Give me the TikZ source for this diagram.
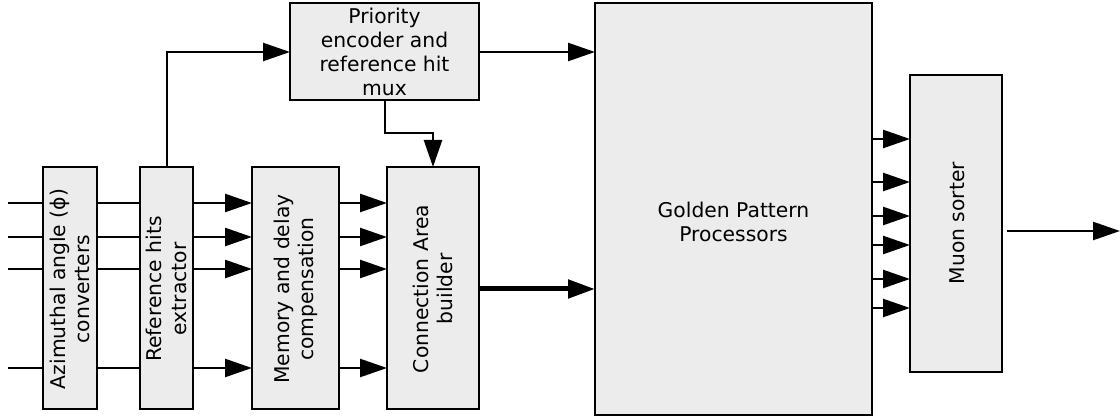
\documentclass[tikz,border=0pt]{standalone}
\usepackage{fontspec}
\setmainfont{DejaVu Sans}
\usetikzlibrary{arrows.meta}
\definecolor{boxfill}{RGB}{236,236,236}
\tikzset{
  block/.style={draw=black, line width=2.5pt, fill=boxfill, inner sep=0pt},
  lbl/.style={align=center, font=\fontsize{20.3}{24.2}\selectfont},
  sig/.style={line width=2.5pt},
  arr/.style={line width=2.5pt, -{Triangle[length=27pt,width=18pt]}},
  thick arr/.style={line width=5pt, -{Triangle[length=27pt,width=18pt]}}
}
\begin{document}
\begin{tikzpicture}[x=1pt,y=-1pt]
\useasboundingbox (0,0) rectangle (1120,419);

% processing blocks
\draw[block] (43,167) rectangle (97,409);
\draw[block] (140,167) rectangle (193,409);
\draw[block] (252,167) rectangle (339,409);
\draw[block] (387,167) rectangle (479,409);
\draw[block] (290,3) rectangle (479,100);
\draw[block] (595,3) rectangle (872,415);
\draw[block] (910,75) rectangle (1002,372);

\node[lbl, rotate=90] (az) at (70,289) {Azimuthal angle (ϕ)\\converters};
\node[lbl, rotate=90] (rh) at (166.5,289) {Reference hits\\extractor};
\node[lbl, rotate=90] (mem) at (295.5,289) {Memory and delay\\compensation};
\node[lbl, rotate=90] (ca) at (433,289) {Connection Area\\builder};
\node[lbl] (pe) at (384.5,52) {Priority\\encoder and\\reference hit\\mux};
\node[lbl] (gp) at (733.5,222) {Golden Pattern\\Processors};
\node[lbl, rotate=90] (ms) at (957,223) {Muon sorter};

% inputs and links between the first stages
\foreach \y in {203,237,269,368} {
  \draw[sig] (8,\y) -- (43,\y);
  \draw[sig] (97,\y) -- (140,\y);
  \draw[arr] (193,\y) -- (252,\y);
  \draw[arr] (339,\y) -- (387,\y);
}

% reference hit path
\draw[arr] (167,167) -- (167,52) -- (290,52);
\draw[arr] (479,52) -- (595,52);
\draw[arr] (385,100) -- (385,133) -- (433,133) -- (433,167);

% connection area to pattern processors
\draw[thick arr] (479,289) -- (595,289);

% candidates to the sorter
\foreach \y in {139,182,216,245,279,308} {
  \draw[arr] (872,\y) -- (910,\y);
}

% output
\draw[arr] (1007,231) -- (1120,231);
\end{tikzpicture}
\end{document}
